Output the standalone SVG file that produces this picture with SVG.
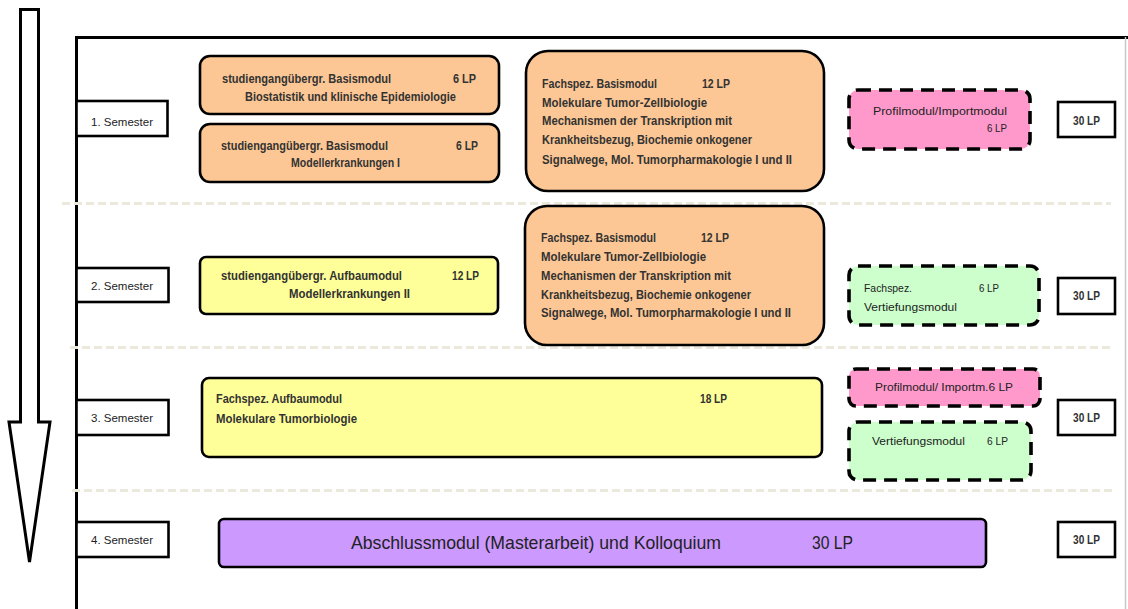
<svg xmlns="http://www.w3.org/2000/svg" width="1128" height="609" viewBox="0 0 1128 609">
<style>
  .bg{fill:#ffffff}
  .frame{fill:none;stroke:#000;stroke-width:3}
  .sep{fill:none;stroke:#ebe8dc;stroke-width:3;stroke-dasharray:8 4}
  .box{stroke:#000;stroke-width:2.6}
  .dbox{stroke:#000;stroke-width:3.6;stroke-dasharray:13 8}
  .orange{fill:#fcc794}
  .yellow{fill:#ffff99}
  .pink{fill:#ff99cc}
  .green{fill:#ccffcc}
  .purple{fill:#cc99ff}
  .white{fill:#ffffff}
  .t{font-family:"Liberation Sans","DejaVu Sans",sans-serif;font-size:12px;font-weight:bold;fill:#333}
  .r{font-family:"Liberation Sans","DejaVu Sans",sans-serif;font-size:11.5px;fill:#222}
  .big{font-family:"Liberation Sans","DejaVu Sans",sans-serif;font-size:19px;fill:#222}
</style>
<rect class="bg" x="0" y="0" width="1128" height="609"/>

<g id="timeline-arrow">
  <polygon points="20.5,9.5 38.5,9.5 38.5,422 50,422 29.5,562 9,422 20.5,422" fill="#fff" stroke="#000" stroke-width="3" stroke-linejoin="miter"/>
</g>

<g id="frame">
  <path class="frame" d="M76.5,609 V37.5 H1128"/>
  <line x1="1125.5" y1="37" x2="1125.5" y2="609" stroke="#c8c8c8" stroke-width="1.5"/>
</g>

<g id="connectors">
  <line class="sep" x1="62" y1="203.5" x2="1111" y2="203.5"/>
  <line class="sep" x1="70" y1="347.5" x2="1111" y2="347.5"/>
  <line class="sep" x1="72" y1="490.5" x2="1116" y2="490.5"/>
</g>

<g id="sem1">
  <rect class="box white" x="76.5" y="101" width="91" height="35"/>
  <text class="r" x="122" y="126" text-anchor="middle" font-size="11.5" textLength="62" lengthAdjust="spacingAndGlyphs">1. Semester</text>
</g>
<g id="sem2">
  <rect class="box white" x="76.5" y="268" width="92" height="34"/>
  <text class="r" x="122" y="290" text-anchor="middle" font-size="11.5" textLength="62" lengthAdjust="spacingAndGlyphs">2. Semester</text>
</g>
<g id="sem3">
  <rect class="box white" x="76.5" y="400" width="92" height="35"/>
  <text class="r" x="122" y="422" text-anchor="middle" font-size="11.5" textLength="62" lengthAdjust="spacingAndGlyphs">3. Semester</text>
</g>
<g id="sem4">
  <rect class="box white" x="76.5" y="522" width="92" height="35"/>
  <text class="r" x="122" y="544" text-anchor="middle" font-size="11.5" textLength="62" lengthAdjust="spacingAndGlyphs">4. Semester</text>
</g>

<g id="basis-biostatistik">
  <rect class="box orange" x="200" y="56" width="299" height="58" rx="10"/>
  <text class="t" x="222" y="83" textLength="169" lengthAdjust="spacingAndGlyphs">studiengangübergr. Basismodul</text>
  <text class="t" x="453" y="83" textLength="23" lengthAdjust="spacingAndGlyphs">6 LP</text>
  <text class="t" x="245" y="101" textLength="211" lengthAdjust="spacingAndGlyphs">Biostatistik und klinische Epidemiologie</text>
</g>
<g id="basis-modellerkrankungen1">
  <rect class="box orange" x="200" y="124" width="299" height="58" rx="10"/>
  <text class="t" x="221" y="150" textLength="167" lengthAdjust="spacingAndGlyphs">studiengangübergr. Basismodul</text>
  <text class="t" x="456" y="150" textLength="22" lengthAdjust="spacingAndGlyphs">6 LP</text>
  <text class="t" x="291" y="167" textLength="109" lengthAdjust="spacingAndGlyphs">Modellerkrankungen I</text>
</g>
<g id="fachspez-basis-1">
  <rect class="box orange" x="526" y="51" width="298" height="140" rx="22"/>
  <text class="t" x="542" y="88" textLength="115" lengthAdjust="spacingAndGlyphs">Fachspez. Basismodul</text>
  <text class="t" x="702" y="88" textLength="28" lengthAdjust="spacingAndGlyphs">12 LP</text>
  <text class="t" x="542" y="107" textLength="165" lengthAdjust="spacingAndGlyphs">Molekulare Tumor-Zellbiologie</text>
  <text class="t" x="542" y="125" textLength="190" lengthAdjust="spacingAndGlyphs">Mechanismen der Transkription mit</text>
  <text class="t" x="542" y="144" textLength="210" lengthAdjust="spacingAndGlyphs">Krankheitsbezug, Biochemie onkogener</text>
  <text class="t" x="542" y="164" textLength="250" lengthAdjust="spacingAndGlyphs">Signalwege,  Mol. Tumorpharmakologie I und II</text>
</g>
<g id="profil-1">
  <rect class="dbox pink" x="849" y="90" width="181" height="59" rx="9"/>
  <text class="r" x="873" y="115" textLength="134" lengthAdjust="spacingAndGlyphs">Profilmodul/Importmodul</text>
  <text class="r" x="987" y="132" textLength="20" lengthAdjust="spacingAndGlyphs">6 LP</text>
</g>
<g id="lp-1">
  <rect class="box white" x="1058" y="102" width="57" height="35"/>
  <text class="t" x="1086.5" y="125" text-anchor="middle" textLength="27" lengthAdjust="spacingAndGlyphs">30 LP</text>
</g>

<g id="aufbau-modellerkrankungen2">
  <rect class="box yellow" x="200" y="257" width="298" height="57" rx="6"/>
  <text class="t" x="221" y="280" textLength="181" lengthAdjust="spacingAndGlyphs">studiengangübergr.  Aufbaumodul</text>
  <text class="t" x="452" y="280" textLength="27" lengthAdjust="spacingAndGlyphs">12 LP</text>
  <text class="t" x="289" y="298" textLength="121" lengthAdjust="spacingAndGlyphs">Modellerkrankungen II</text>
</g>
<g id="fachspez-basis-2">
  <rect class="box orange" x="525" y="206" width="299" height="139" rx="22"/>
  <text class="t" x="541" y="242" textLength="115" lengthAdjust="spacingAndGlyphs">Fachspez. Basismodul</text>
  <text class="t" x="701" y="242" textLength="28" lengthAdjust="spacingAndGlyphs">12 LP</text>
  <text class="t" x="541" y="261" textLength="165" lengthAdjust="spacingAndGlyphs">Molekulare Tumor-Zellbiologie</text>
  <text class="t" x="541" y="280" textLength="190" lengthAdjust="spacingAndGlyphs">Mechanismen der Transkription mit</text>
  <text class="t" x="541" y="299" textLength="210" lengthAdjust="spacingAndGlyphs">Krankheitsbezug, Biochemie onkogener</text>
  <text class="t" x="541" y="317" textLength="250" lengthAdjust="spacingAndGlyphs">Signalwege,  Mol. Tumorpharmakologie I und II</text>
</g>
<g id="vertiefung-2">
  <rect class="dbox green" x="849" y="266" width="190" height="59" rx="9"/>
  <text class="r" x="864" y="292" textLength="48" lengthAdjust="spacingAndGlyphs">Fachspez.</text>
  <text class="r" x="979" y="292" textLength="20" lengthAdjust="spacingAndGlyphs">6 LP</text>
  <text class="r" x="864" y="311" textLength="93" lengthAdjust="spacingAndGlyphs">Vertiefungsmodul</text>
</g>
<g id="lp-2">
  <rect class="box white" x="1058" y="278" width="57" height="36"/>
  <text class="t" x="1086.5" y="300" text-anchor="middle" textLength="27" lengthAdjust="spacingAndGlyphs">30 LP</text>
</g>

<g id="fachspez-aufbau">
  <rect class="box yellow" x="202" y="378" width="620" height="79" rx="7"/>
  <text class="t" x="216" y="403" textLength="126" lengthAdjust="spacingAndGlyphs">Fachspez. Aufbaumodul</text>
  <text class="t" x="700" y="403" textLength="27" lengthAdjust="spacingAndGlyphs">18 LP</text>
  <text class="t" x="216" y="423" textLength="141" lengthAdjust="spacingAndGlyphs">Molekulare Tumorbiologie</text>
</g>
<g id="profil-3">
  <rect class="dbox pink" x="849" y="369" width="191" height="37" rx="7"/>
  <text class="r" x="875" y="391" textLength="138" lengthAdjust="spacingAndGlyphs">Profilmodul/ Importm.6 LP</text>
</g>
<g id="vertiefung-3">
  <rect class="dbox green" x="849" y="422" width="182" height="58" rx="9"/>
  <text class="r" x="872" y="445" textLength="93" lengthAdjust="spacingAndGlyphs">Vertiefungsmodul</text>
  <text class="r" x="987" y="445" textLength="21" lengthAdjust="spacingAndGlyphs">6 LP</text>
</g>
<g id="lp-3">
  <rect class="box white" x="1058" y="400" width="57" height="35"/>
  <text class="t" x="1086.5" y="422" text-anchor="middle" textLength="27" lengthAdjust="spacingAndGlyphs">30 LP</text>
</g>

<g id="abschlussmodul">
  <rect class="box purple" x="219" y="519" width="767" height="48" rx="5"/>
  <text class="big" x="351" y="549" textLength="370" lengthAdjust="spacingAndGlyphs">Abschlussmodul (Masterarbeit) und Kolloquium</text>
  <text class="big" x="812" y="549" textLength="41" lengthAdjust="spacingAndGlyphs">30 LP</text>
</g>
<g id="lp-4">
  <rect class="box white" x="1058" y="522" width="57" height="35"/>
  <text class="t" x="1086.5" y="544" text-anchor="middle" textLength="27" lengthAdjust="spacingAndGlyphs">30 LP</text>
</g>
</svg>
